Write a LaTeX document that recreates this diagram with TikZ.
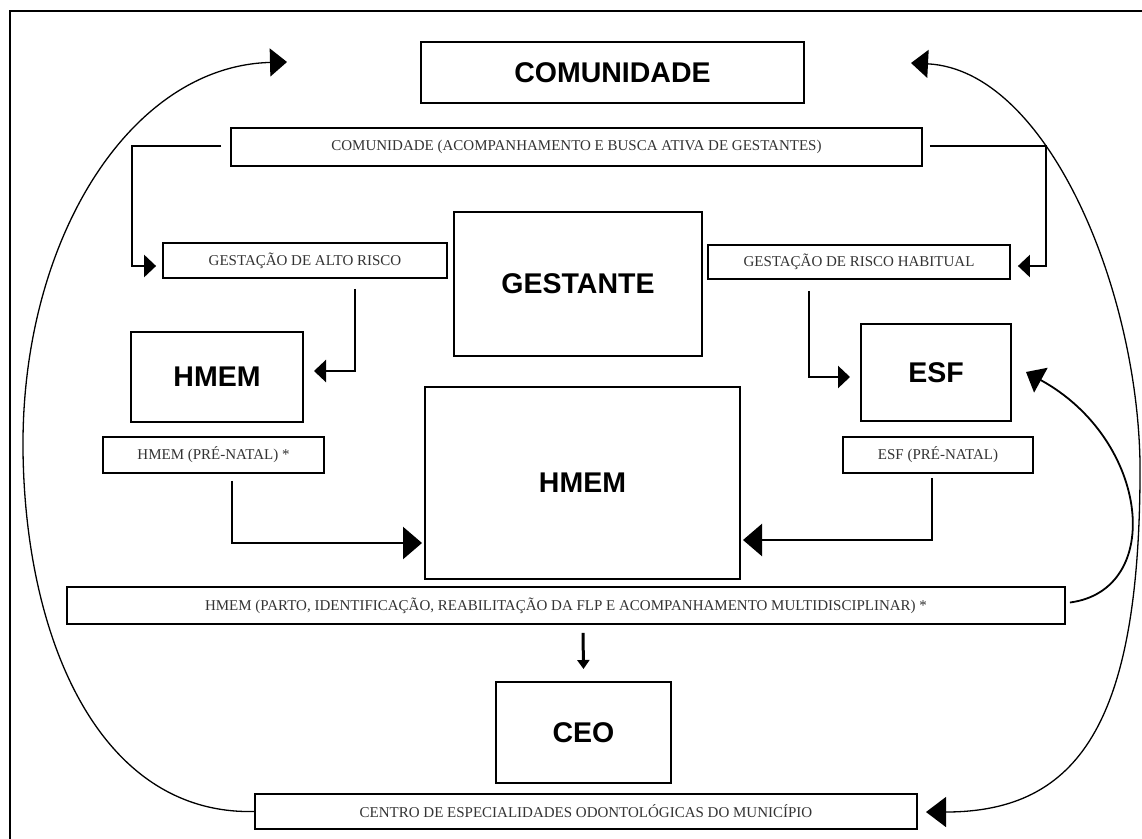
\documentclass[tikz,border=0pt]{standalone}
\usepackage{fontspec}
\setmainfont{Liberation Serif}
\newfontfamily\bigsans{Liberation Sans}
\usetikzlibrary{arrows.meta,calc}
\begin{document}
\begin{tikzpicture}[x=1pt,y=-1pt,
  bigbox/.style={draw, line width=2pt, inner sep=0pt, font=\bigsans\fontsize{28.5}{30}\selectfont\bfseries},
  smallbox/.style={draw, line width=1.8pt, inner sep=0pt, font=\fontsize{15}{17}\selectfont, text=black!80},
  conn/.style={line width=2.5pt},
  curv/.style={line width=1.3pt},
  smalltip/.style={-{Triangle[length=12pt,width=22pt]}},
  bigtip/.style={-{Triangle[length=19pt,width=32pt]}},
  curvtip/.style={-{Triangle[length=17pt,width=28pt]}},
  downtip/.style={-{Triangle[length=9pt,width=12pt]}}
]
\clip (0,0) rectangle (1142,838);
\fill[white] (0,0) rectangle (1142,838);
\draw[line width=1.5pt] (10,900) -- (10,11) -- (1200,11);

% nodes
\node[bigbox, minimum width=383pt, minimum height=61pt] (comu) at (612.5,72.5) {COMUNIDADE};
\node[smallbox, minimum width=691pt, minimum height=38pt] (acomp) at (576.5,147) {COMUNIDADE (ACOMPANHAMENTO E BUSCA ATIVA DE GESTANTES)};
\node[smallbox, minimum width=284pt, minimum height=35pt] (alto) at (305,260.5) {GESTAÇÃO DE ALTO RISCO};
\node[bigbox, minimum width=248pt, minimum height=144pt] (gest) at (578,284) {GESTANTE};
\node[smallbox, minimum width=302pt, minimum height=34pt] (habit) at (859,262) {GESTAÇÃO DE RISCO HABITUAL};
\node[bigbox, minimum width=172pt, minimum height=90pt] (hmemS) at (217,377) {HMEM};
\node[smallbox, minimum width=221pt, minimum height=36pt] (hmemPN) at (213.5,455) {HMEM (PRÉ-NATAL) *};
\node[bigbox, minimum width=315pt, minimum height=192pt] (hmemB) at (582.5,483) {HMEM};
\node[bigbox, minimum width=150pt, minimum height=97pt] (esf) at (936,372.5) {ESF};
\node[smallbox, minimum width=190pt, minimum height=36pt] (esfPN) at (938,455) {ESF (PRÉ-NATAL)};
\node[smallbox, minimum width=998pt, minimum height=37pt] (parto) at (566,605.5) {HMEM (PARTO, IDENTIFICAÇÃO, REABILITAÇÃO DA FLP E ACOMPANHAMENTO MULTIDISCIPLINAR) *};
\node[bigbox, minimum width=175pt, minimum height=101pt] (ceo) at (583.5,732.5) {CEO};
\node[smallbox, minimum width=662pt, minimum height=35pt] (centro) at (586,811.5) {CENTRO DE ESPECIALIDADES ODONTOLÓGICAS DO MUNICÍPIO};

% connectors
\draw[conn, smalltip, shorten >=6pt] ($(acomp.west)+(-9,-1)$) -- (132,146) |- ($(alto.west)+(0,5.5)$);
\draw[conn, smalltip, shorten >=7pt] ($(acomp.east)+(7,-1)$) -- (1046,146) |- ($(habit.east)+(0,4)$);
\draw[conn, smalltip, shorten >=10pt] ($(alto.south)+(50,10)$) |- ($(hmemS.east)+(0,-6)$);
\draw[conn, smalltip, shorten >=10pt] ($(habit.south)+(-50,11)$) |- ($(esf.west)+(0,4.5)$);
\draw[conn, bigtip, shorten >=2pt] ($(hmemPN.south)+(18.5,7)$) |- ($(hmemB.west)+(0,60)$);
\draw[conn, bigtip, shorten >=2pt] ($(esfPN.south)+(-6,4)$) |- ($(hmemB.east)+(0,57)$);
\draw[line width=3pt, downtip] ($(parto.south)+(17,8)$) -- ($(ceo.north)+(0,-12)$);

% curves
\coordinate (lt) at (287,62);
\draw[curv, curvtip] (centro.west) .. controls (100,815) and (25,640) .. (23,450) .. controls (21,240) and (130,66) .. (lt);
\coordinate (rt) at (911,63);
\coordinate (rb) at (926,812);
\draw[curv, {Triangle[length=17pt,width=28pt]}-{Triangle[length=20pt,width=30pt]}] (rt) .. controls (1050,70) and (1143,300) .. (1140,480) .. controls (1138,720) and (1080,812) .. (rb);
\coordinate (et) at (1026,372);
\draw[line width=1.8pt, curvtip] ($(parto.east)+(4,-3)$) .. controls (1165,590) and (1150,440) .. (et);
\end{tikzpicture}
\end{document}
